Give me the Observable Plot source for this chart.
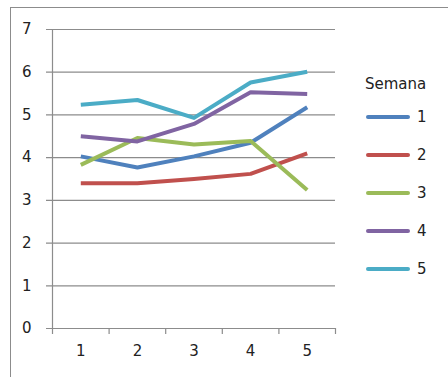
<!DOCTYPE html>
<html>
<head>
<meta charset="utf-8">
<script src="https://cdn.jsdelivr.net/npm/d3@7"></script>
<script src="https://cdn.jsdelivr.net/npm/@observablehq/plot@0.6"></script>
<style>
  body { margin: 0; background: #fff; }
  #chart { position: relative; width: 448px; height: 377px; overflow: hidden;
           font-family: "DejaVu Sans", Verdana, sans-serif; color: #222; }
  #frame { position: absolute; left: 10px; top: 7px; width: 480px; height: 420px;
           border-top: 1px solid #8c8c8c; border-left: 1px solid #8c8c8c; }
  #plot { position: absolute; left: 0; top: 0; }
  #legend { position: absolute; left: 365px; top: 70px; font-size: 15px; }
  #legend .title { height: 28px; line-height: 28px; }
  #legend .row { height: 38px; display: flex; align-items: center; }
  #legend .swatch { width: 44px; height: 4px; border-radius: 2px; margin-left: 1px; margin-right: 7px; }
</style>
</head>
<body>
<div id="chart">
  <div id="frame"></div>
  <div id="plot"></div>
  <div id="legend"></div>
</div>
<script>
// Weeks on the x axis, one line per "Semana"
const categories = [1, 2, 3, 4, 5];
const seriesNames = ["1", "2", "3", "4", "5"];
const semana1 = [4.03, 3.77, 4.03, 4.35, 5.18];
const semana2 = [3.40, 3.40, 3.50, 3.62, 4.10];
const semana3 = [3.83, 4.46, 4.31, 4.39, 3.24];
const semana4 = [4.50, 4.38, 4.79, 5.53, 5.49];
const semana5 = [5.24, 5.35, 4.93, 5.76, 6.01];
const yTicks = [0, 1, 2, 3, 4, 5, 6, 7];
const legendTitle = "Semana";
const colors = ["#4F81BD", "#C0504D", "#9BBB59", "#8064A2", "#4BACC6"];

const seriesValues = [semana1, semana2, semana3, semana4, semana5];
const rows = seriesValues.flatMap((vals, s) =>
  vals.map((v, i) => ({ x: categories[i], y: v, series: seriesNames[s] })));

// category band edges for the tick marks under the x axis
const edges = categories.map(c => c - 0.5).concat(categories[categories.length - 1] + 0.5);

const gray = "#8c8c8c";

const chart = Plot.plot({
  width: 448,
  height: 377,
  marginLeft: 52,
  marginRight: 113,
  marginTop: 29,
  marginBottom: 49,
  style: { fontFamily: "'DejaVu Sans', Verdana, sans-serif", fontSize: "15px", background: "transparent", overflow: "visible" },
  x: { domain: [edges[0], edges[edges.length - 1]], axis: null },
  y: { domain: [yTicks[0], yTicks[yTicks.length - 1]], axis: null },
  color: { domain: seriesNames, range: colors },
  marks: [
    // gridlines (the y=0 one doubles as the x axis), extended left as tick marks
    Plot.ruleY(yTicks, { x1: edges[0], x2: edges[edges.length - 1], insetLeft: -6, stroke: gray, strokeWidth: 1.2 }),
    // y axis line
    Plot.ruleX([edges[0]], { y1: yTicks[0], y2: yTicks[yTicks.length - 1], stroke: gray, strokeWidth: 1.2 }),
    // x axis tick marks at band edges
    Plot.ruleX(edges, { y1: yTicks[0], y2: yTicks[0], insetBottom: -6, stroke: gray, strokeWidth: 1.2 }),
    // tick labels
    Plot.text(yTicks, { y: d => d, text: d => String(d), frameAnchor: "left", dx: -21, textAnchor: "end", fill: "#222" }),
    Plot.text(categories, { x: d => d, text: d => String(d), frameAnchor: "bottom", dy: 27, fill: "#222" }),
    // series lines
    Plot.line(rows, { x: "x", y: "y", z: "series", stroke: "series", strokeWidth: 4,
                      strokeLinejoin: "round", strokeLinecap: "butt" })
  ]
});
document.getElementById("plot").appendChild(chart);

// legend on the right
const legend = d3.select("#legend");
legend.append("div").attr("class", "title").text(legendTitle);
const item = legend.selectAll("div.row").data(seriesNames).join("div").attr("class", "row");
item.append("div").attr("class", "swatch").style("background", (d, i) => colors[i]);
item.append("span").text(d => d);
</script>
</body>
</html>
